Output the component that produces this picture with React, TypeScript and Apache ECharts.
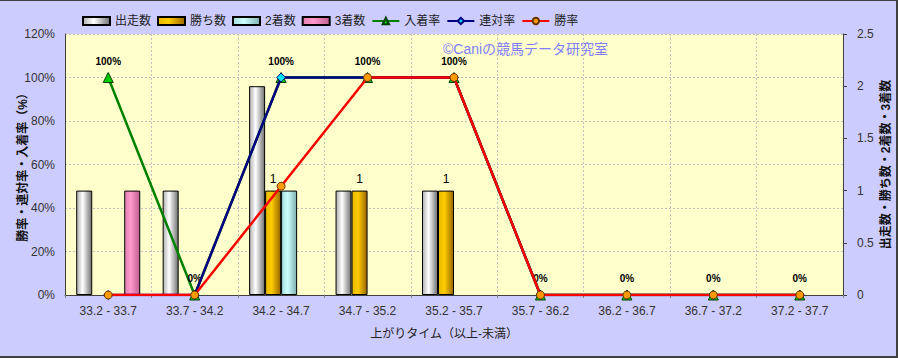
import React, { useEffect, useRef } from "react";
import * as echarts from "echarts";

const categories = [
  "33.2 - 33.7",
  "33.7 - 34.2",
  "34.2 - 34.7",
  "34.7 - 35.2",
  "35.2 - 35.7",
  "35.7 - 36.2",
  "36.2 - 36.7",
  "36.7 - 37.2",
  "37.2 - 37.7",
];
const starts = [1, 1, 2, 1, 1, 0, 0, 0, 0];
const wins = [0, 0, 1, 1, 1, 0, 0, 0, 0];
const seconds = [0, 0, 1, 0, 0, 0, 0, 0, 0];
const thirds = [1, 0, 0, 0, 0, 0, 0, 0, 0];
const placeRate = [100, 0, 100, 100, 100, 0, 0, 0, 0];
const quinellaRate = [0, 0, 100, 100, 100, 0, 0, 0, 0];
const winRate = [0, 0, 50, 100, 100, 0, 0, 0, 0];

const FONT = "'Liberation Sans', 'Noto Sans CJK JP', sans-serif";

function grad(c0: string, c1: string, c2: string) {
  return new echarts.graphic.LinearGradient(0, 0, 1, 0, [
    { offset: 0, color: c0 },
    { offset: 0.4, color: c1 },
    { offset: 1, color: c2 },
  ]);
}

// zero counts draw no bar
const hideZero = (arr: number[]) => arr.map((v) => (v === 0 ? null : v));

export default function App() {
  const ref = useRef<HTMLDivElement>(null);
  useEffect(() => {
    if (!ref.current) return;
    const chart = echarts.init(ref.current, undefined, { renderer: "svg" });
    const barBase = {
      type: "bar" as const,
      yAxisIndex: 1,
      barWidth: 16,
      barGap: "0%",
    };
    chart.setOption({
      animation: false,
      backgroundColor: "#ccccff",
      textStyle: { fontFamily: FONT },
      legend: {
        left: 77,
        top: 10,
        itemWidth: 27,
        itemHeight: 8,
        itemGap: 6,
        textStyle: { fontSize: 12, color: "#222", fontFamily: FONT },
        data: [
          { name: "出走数", icon: "rect" },
          { name: "勝ち数", icon: "rect" },
          { name: "2着数", icon: "rect" },
          { name: "3着数", icon: "rect" },
          { name: "入着率" },
          { name: "連対率" },
          { name: "勝率" },
        ],
      },
      graphic: [
        {
          type: "text",
          left: 443,
          top: 42,
          style: {
            text: "©Caniの競馬データ研究室",
            fill: "#8080ff",
            fontSize: 14,
            fontFamily: FONT,
          },
          z: 0,
        },
        { type: "rect", shape: { x: 0, y: 0, width: 898, height: 1 }, style: { fill: "#404040" } },
        { type: "rect", shape: { x: 896, y: 0, width: 2, height: 358 }, style: { fill: "#404040" } },
        { type: "rect", shape: { x: 0, y: 356, width: 898, height: 2 }, style: { fill: "#404040" } },
      ],
      grid: {
        left: 65,
        right: 55,
        top: 34,
        bottom: 63,
        show: true,
        backgroundColor: "#ffffcc",
        borderWidth: 0,
        containLabel: false,
        outerBoundsMode: "none",
      },
      xAxis: {
        type: "category",
        data: categories,
        name: "上がりタイム（以上-未満）",
        nameLocation: "middle",
        nameGap: 33,
        nameMoveOverlap: false,
        nameTextStyle: { fontSize: 12, color: "#222", fontFamily: FONT, padding: [0, 20, 0, 0] },
        axisLine: { lineStyle: { color: "#404040", width: 1 } },
        axisTick: { show: true, length: 3, lineStyle: { color: "#808080" } },
        axisLabel: { fontSize: 12, color: "#333", margin: 10, fontFamily: FONT },
        splitLine: { show: true, lineStyle: { color: "#c0c0c0", type: [2, 2] } },
      },
      yAxis: [
        {
          type: "value",
          min: 0,
          max: 120,
          interval: 20,
          name: "勝率・連対率・入着率（%）",
          nameLocation: "middle",
          nameRotate: 90,
          nameGap: 36,
          nameMoveOverlap: false,
          nameTextStyle: { fontSize: 12, color: "#111", fontFamily: FONT, fontWeight: "bold" },
          axisLine: { show: true, lineStyle: { color: "#404040" } },
          axisTick: { show: false },
          axisLabel: { formatter: "{value}%", fontSize: 12, color: "#333", margin: 10, fontFamily: FONT },
          splitLine: { show: true, lineStyle: { color: "#c0c0c0", type: [2, 2] } },
        },
        {
          type: "value",
          min: 0,
          max: 2.5,
          interval: 0.5,
          name: "出走数・勝ち数・2着数・3着数",
          nameLocation: "middle",
          nameRotate: 90,
          nameGap: 37,
          nameMoveOverlap: false,
          nameTextStyle: { fontSize: 12, color: "#111", fontFamily: FONT, fontWeight: "bold" },
          axisLine: { show: true, lineStyle: { color: "#404040" } },
          axisTick: { show: true, length: 4, lineStyle: { color: "#404040" } },
          axisLabel: { fontSize: 12, color: "#333", margin: 14, fontFamily: FONT },
          splitLine: { show: false },
        },
      ],
      series: [
        {
          ...barBase,
          name: "出走数",
          data: hideZero(starts),
          itemStyle: { color: grad("#b0b0b0", "#ffffff", "#707070"), borderColor: "#000", borderWidth: 1 },
        },
        {
          ...barBase,
          name: "勝ち数",
          data: hideZero(wins),
          itemStyle: { color: grad("#e6b800", "#ffcc00", "#996600"), borderColor: "#000", borderWidth: 1 },
          label: {
            show: true,
            position: "top",
            distance: 6,
            fontSize: 12,
            color: "#000",
            fontFamily: FONT,
          },
        },
        {
          ...barBase,
          name: "2着数",
          data: hideZero(seconds),
          itemStyle: { color: grad("#a0dcdc", "#ccffff", "#80b0b0"), borderColor: "#000", borderWidth: 1 },
        },
        {
          ...barBase,
          name: "3着数",
          data: hideZero(thirds),
          itemStyle: { color: grad("#e080b0", "#ff99cc", "#c06090"), borderColor: "#000", borderWidth: 1 },
        },
        {
          type: "line",
          name: "入着率",
          data: placeRate,
          yAxisIndex: 0,
          symbol: "triangle",
          symbolSize: 10,
          lineStyle: { color: "#008000", width: 2.5 },
          itemStyle: { color: "#00cc00", borderColor: "#004000", borderWidth: 1 },
          label: {
            show: true,
            position: "top",
            distance: 6,
            fontSize: 10,
            fontWeight: "bold",
            color: "#000",
            fontFamily: FONT,
            formatter: "{c}%",
          },
          z: 3,
        },
        {
          type: "line",
          name: "連対率",
          data: quinellaRate,
          yAxisIndex: 0,
          symbol: "diamond",
          symbolSize: 9,
          lineStyle: { color: "#000080", width: 2.5 },
          itemStyle: { color: "#00e5ff", borderColor: "#000080", borderWidth: 1 },
          z: 4,
        },
        {
          type: "line",
          name: "勝率",
          data: winRate,
          yAxisIndex: 0,
          symbol: "circle",
          symbolSize: 8,
          lineStyle: { color: "#ff0000", width: 2.5 },
          itemStyle: { color: "#ff9900", borderColor: "#663300", borderWidth: 1 },
          z: 5,
        },
      ],
    });
    return () => chart.dispose();
  }, []);
  return (
    <div
      ref={ref}
      style={{ position: "fixed", left: 0, top: 0, width: 898, height: 358 }}
    />
  );
}
